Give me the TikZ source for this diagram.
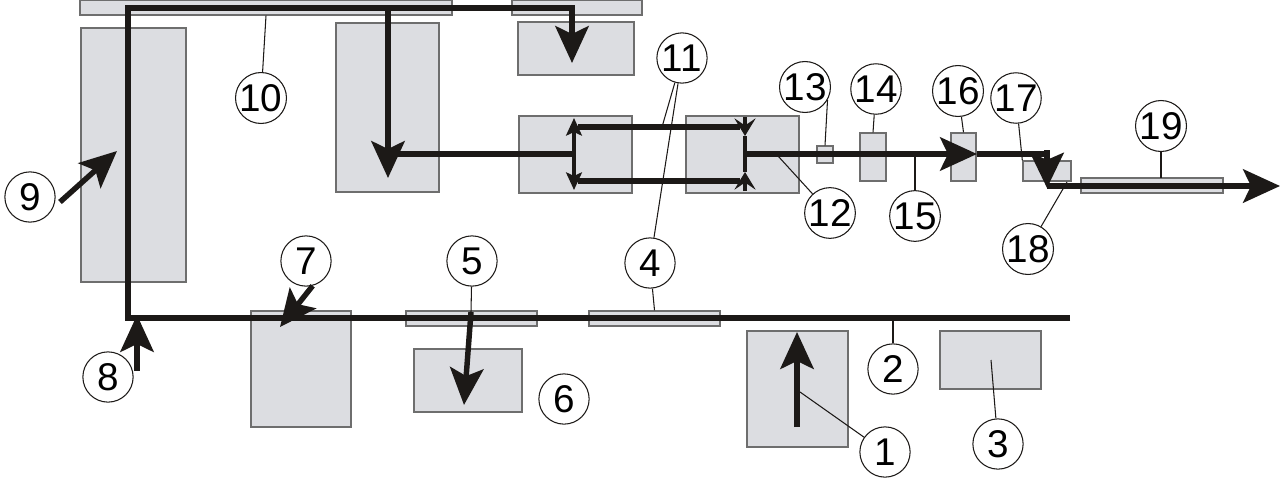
\documentclass[tikz,border=0pt]{standalone}
\usepackage{fontspec}
\setmainfont{Liberation Sans}
\usepackage{xcolor}
\usetikzlibrary{arrows.meta,fit}

\definecolor{fondgris}{HTML}{DCDDE1}
\definecolor{bordgris}{HTML}{6E6E6E}
\definecolor{trait}{HTML}{1C1917}

\begin{document}
\begin{tikzpicture}[x=0.02cm, y=-0.02cm,
  bloc/.style={draw=bordgris, fill=fondgris, line width=0.8pt, inner sep=0pt},
  repere/.style={circle, draw=trait, fill=white, line width=0.6pt, minimum size=28.6pt,
    inner sep=0pt, font=\fontsize{22}{22}\selectfont},
  rappel/.style={draw=trait, line width=0.6pt},
  flux/.style={draw=trait, line width=3.1pt, line join=miter},
  fleche/.style={-{Stealth[length=21pt, width=19pt, inset=4.5pt]}},
  double/.style={{Stealth[length=10pt, width=9pt, inset=2pt]}-{Stealth[length=10pt, width=9pt, inset=2pt]}},
  butee/.style={-{Stealth[length=10pt, width=12pt, inset=4pt]}}]

\useasboundingbox (0,0) rectangle (1280,480);

% Blocs du haut
\node[bloc, fit={(80,0) (452,15)}] (bar10) {};
\node[bloc, fit={(512,0) (642,15)}] (barH) {};
\node[bloc, fit={(518,22) (634,75)}] (bH) {};
\node[bloc, fit={(81,28) (186,282)}] (b9) {};
\node[bloc, fit={(336,23) (439,192)}] (bV) {};

% Blocs du milieu
\node[bloc, fit={(519,116) (632,193)}] (bG) {};
\node[bloc, fit={(686,116) (799,193)}] (b12) {};
\node[bloc, fit={(817,146) (833,163)}] (b13) {};
\node[bloc, fit={(860,133) (886,181)}] (b14) {};
\node[bloc, fit={(951,133) (976,181)}] (b16) {};
\node[bloc, fit={(1023,161) (1071,181)}] (b17) {};
\node[bloc, fit={(1081,178) (1223,193)}] (bar19) {};

% Blocs du bas
\node[bloc, fit={(251,311) (351,427)}] (b7) {};
\node[bloc, fit={(406,311) (537,326)}] (bar5) {};
\node[bloc, fit={(414,349) (522,412)}] (b6) {};
\node[bloc, fit={(589,311) (720,326)}] (bar4) {};
\node[bloc, fit={(747,331) (848,447)}] (b1) {};
\node[bloc, fit={(940,331) (1041,389)}] (b3) {};

% Points du trajet
\coordinate (fin2) at (1070,318);
\coordinate (coin8) at (128,318);
\coordinate (coin10) at (128,8);
\coordinate (coinH) at (572,8);
\coordinate (pointeH) at (572,63);
\coordinate (depV) at (388,8);
\coordinate (pointeV) at (388,178);
\coordinate (retour) at (388,154);
\coordinate (milG) at (574,154);
\coordinate (hautG) at (574,118);
\coordinate (basG) at (574,190);
\coordinate (hautD) at (745,117);
\coordinate (basD) at (745,191);
\coordinate (dansH) at (745,136);
\coordinate (dansB) at (745,172);
\coordinate (milD) at (745,154);
\coordinate (pointe16) at (977,154);
\coordinate (coin17) at (1047,154);
\coordinate (dep17) at (1047,150);
\coordinate (pointe17) at (1047,188);
\coordinate (sortie) at (1280,186);

% Trajet principal
\draw[flux, fleche] (fin2) -- (coin8) -- (coin10) -- (coinH) -- (pointeH);
\draw[flux, fleche] (depV) -- (pointeV);
\draw[flux] (milG) -- (retour);

% Boucle entre les deux blocs
\draw[flux, line width=1.8pt, double] (hautG) -- (basG);
\draw[flux] (578,127) -- (740,127);
\draw[flux] (578,181) -- (740,181);
\draw[flux, line width=2.6pt] (dansH) -- (dansB);
\draw[flux, line width=2pt, butee] (hautD) -- (dansH);
\draw[flux, line width=2pt, butee] (basD) -- (dansB);

% Sortie vers la droite
\draw[flux, fleche] (milD) -- (pointe16);
\draw[flux] (pointe16) -- (coin17);
\draw[flux, -{Stealth[length=20pt, width=19pt, inset=4pt]}] (dep17) -- (pointe17);
\draw[flux, fleche] (1047,186) -- (sortie);

% Fleches isolees
\coordinate (queue1) at (797,427);
\coordinate (tete1) at (797,332);
\coordinate (tete5) at (464,405);
\coordinate (tete7) at (280,327);
\coordinate (queue8) at (137,371);
\coordinate (tete8) at (137,315);
\coordinate (queue9) at (60,202);
\coordinate (tete9) at (117,151);
\draw[flux, fleche] (queue1) -- (tete1);
\draw[flux, fleche] (471,312) -- (tete5);
\draw[flux, fleche] (queue8) -- (tete8);
\draw[flux, fleche] (queue9) -- (tete9);

% Reperes
\node[repere] (c1) at (885,452) {1};
\node[repere] (c2) at (893,369) {2};
\node[repere] (c3) at (998,444) {3};
\node[repere] (c4) at (650,263) {4};
\node[repere] (c5) at (472,261) {5};
\node[repere] (c6) at (564,399) {6};
\node[repere] (c7) at (306,261) {7};
\node[repere] (c8) at (108,377) {8};
\node[repere] (c9) at (30,197) {9};
\node[repere] (c10) at (261,98) {10};
\node[repere] (c11) at (682,58) {11};
\node[repere] (c12) at (830,213) {12};
\node[repere] (c13) at (805,87) {13};
\node[repere] (c14) at (876,89) {14};
\node[repere] (c15) at (915,216) {15};
\node[repere] (c16) at (958,91) {16};
\node[repere] (c17) at (1016,98) {17};
\node[repere] (c18) at (1028,249) {18};
\node[repere] (c19) at (1161,126) {19};

\draw[flux, fleche] (c7.-75) -- (tete7);

% Traits de rappel
\draw[rappel] (c1) -- (800,392);
\draw[rappel] (c2) -- (893,320);
\draw[rappel] (c3) -- (991,360);
\draw[rappel] (c4) -- (bar4.north);
\draw[rappel] (c5) -- (471,312);
\draw[rappel] (c10) -- (bar10.south);
\draw[rappel] (c11) -- (662,127);
\draw[rappel] (c11) -- (c4);
\draw[rappel] (c12) -- (778,156);
\draw[rappel] (c13.-30) -- (b13.north);
\draw[rappel] (c14) -- (b14.north);
\draw[rappel] (c15) -- (915,155);
\draw[rappel] (c16) -- (b16.north);
\draw[rappel] (c17) -- (b17.north west);
\draw[rappel] (c18) -- (1067,182);
\draw[rappel] (c19) -- (1161,178);

\end{tikzpicture}
\end{document}
